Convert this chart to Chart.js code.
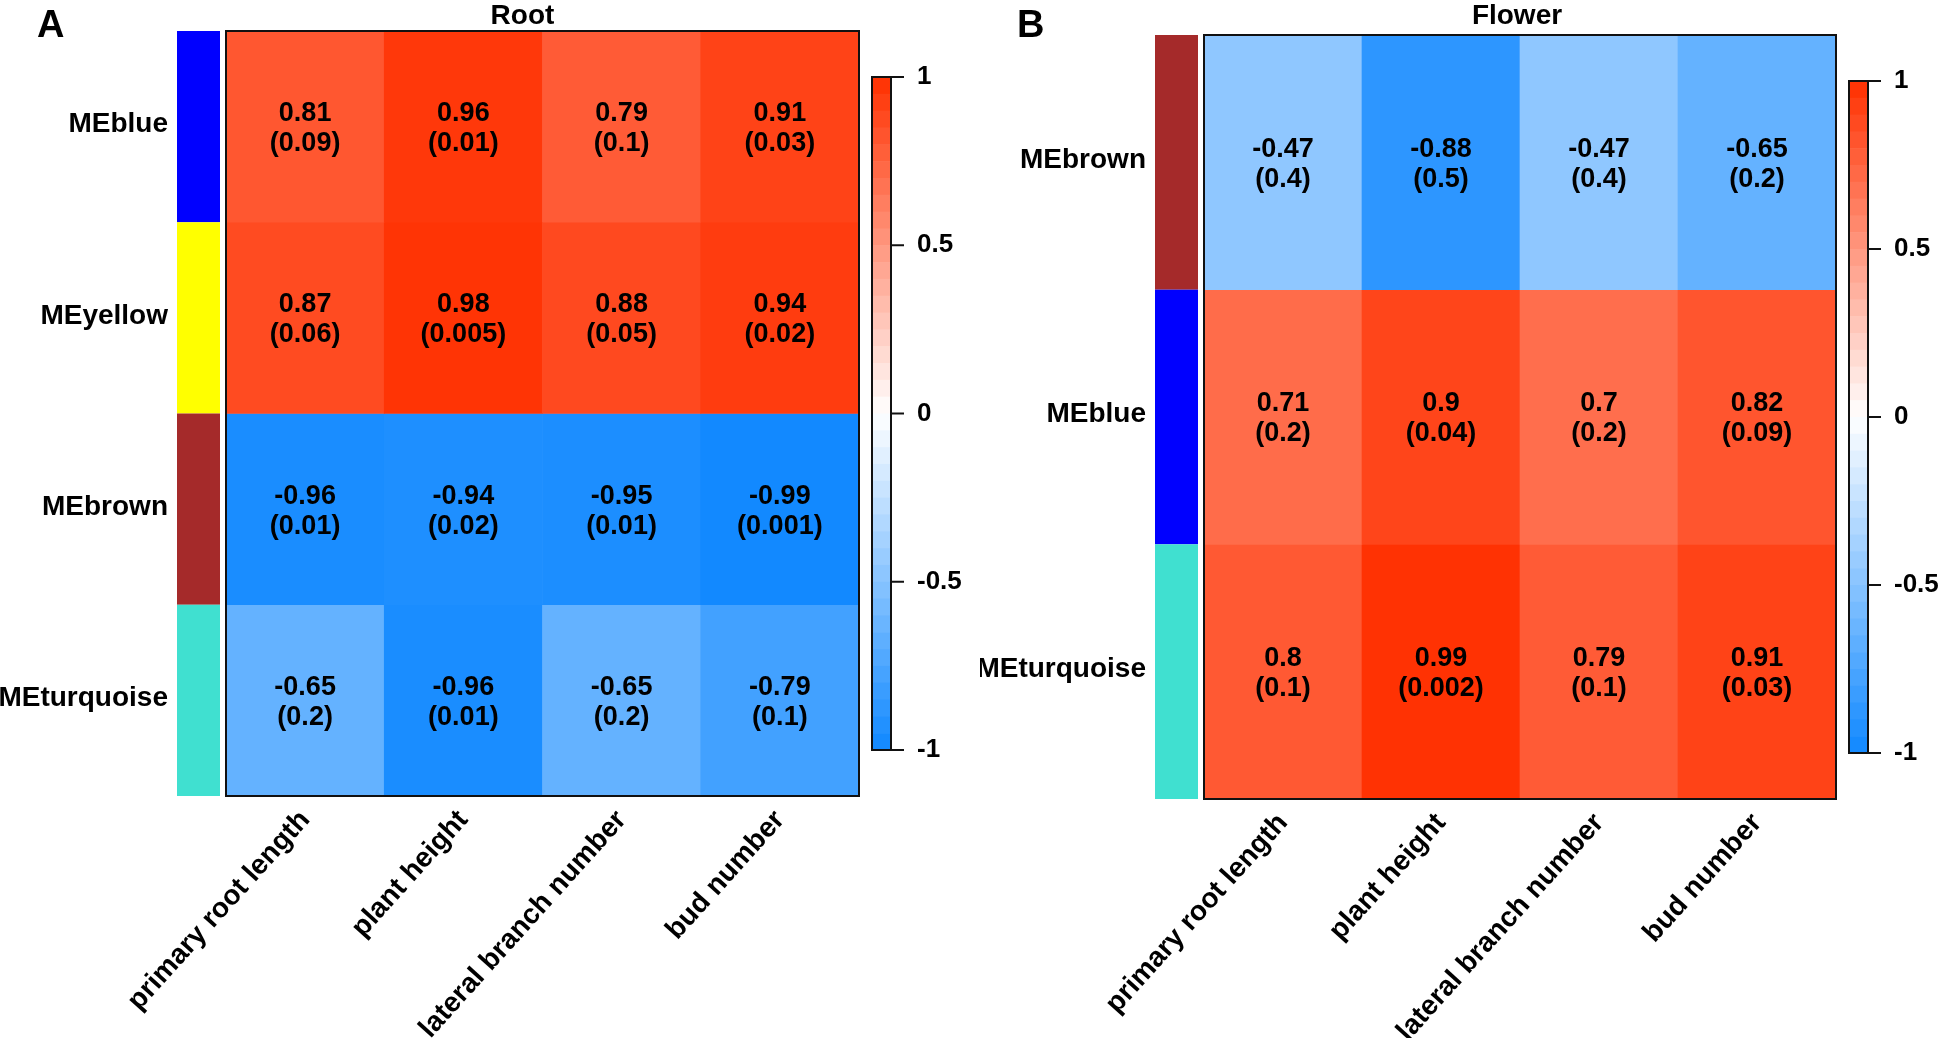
<!DOCTYPE html>
<html>
<head>
<meta charset="utf-8">
<script src="https://cdn.jsdelivr.net/npm/chart.js@4.4.1/dist/chart.umd.min.js"></script>
<style>
  body { margin: 0; background: #fff; }
  #wrap { position: relative; width: 1944px; height: 1038px; overflow: hidden; }
  canvas { position: absolute; top: 0; }
</style>
</head>
<body>
<div id="wrap">
  <canvas id="rootChart" width="980" height="1038" style="left:0"></canvas>
  <canvas id="flowerChart" width="964" height="1038" style="left:980px"></canvas>
</div>
<script>
const FONT = "'Liberation Sans', Arial, sans-serif";

// traits (columns) shared by both panels
const traits = ['primary root length', 'plant height', 'lateral branch number', 'bud number'];

// panel A: Root
const rootModules = ['MEblue', 'MEyellow', 'MEbrown', 'MEturquoise'];
const rootModuleColors = ['#0000FF', '#FFFF00', '#A52A2A', '#40E0D0'];
const rootCorr = [
  [0.81, 0.96, 0.79, 0.91],
  [0.87, 0.98, 0.88, 0.94],
  [-0.96, -0.94, -0.95, -0.99],
  [-0.65, -0.96, -0.65, -0.79]
];
const rootP = [
  ['0.09', '0.01', '0.1', '0.03'],
  ['0.06', '0.005', '0.05', '0.02'],
  ['0.01', '0.02', '0.01', '0.001'],
  ['0.2', '0.01', '0.2', '0.1']
];

// panel B: Flower
const flowerModules = ['MEbrown', 'MEblue', 'MEturquoise'];
const flowerModuleColors = ['#A52A2A', '#0000FF', '#40E0D0'];
const flowerCorr = [
  [-0.47, -0.88, -0.47, -0.65],
  [0.71, 0.9, 0.7, 0.82],
  [0.8, 0.99, 0.79, 0.91]
];
const flowerP = [
  ['0.4', '0.5', '0.4', '0.2'],
  ['0.2', '0.04', '0.2', '0.09'],
  ['0.1', '0.002', '0.1', '0.03']
];

// colour key ticks
const colorbarTicks = [1, 0.5, 0, -0.5, -1];

// blue - white - red scale
function corrColor(v) {
  const t = Math.min(1, Math.abs(v));
  const end = v >= 0 ? [255, 48, 0] : [16, 136, 255];
  const c = end.map(e => Math.round(255 + (e - 255) * t));
  return `rgb(${c[0]},${c[1]},${c[2]})`;
}

// values in cells, side colour strip, border, colour key, title
const heatmapExtras = {
  id: 'heatmapExtras',
  afterDatasetsDraw(chart, args, opts) {
    const { ctx, chartArea: a } = chart;
    const y = chart.scales.y;
    ctx.save();

    ctx.font = 'bold 27px ' + FONT;
    ctx.fillStyle = '#000';
    ctx.textAlign = 'center';
    ctx.textBaseline = 'middle';
    chart.data.datasets.forEach((ds, r) => {
      chart.getDatasetMeta(r).data.forEach((bar, c) => {
        const cy = (bar.y + bar.base) / 2 + 2;
        ctx.fillText(String(opts.corr[r][c]), bar.x, cy - 15);
        ctx.fillText('(' + opts.p[r][c] + ')', bar.x, cy + 15);
      });
    });

    ctx.lineWidth = 2;
    ctx.strokeStyle = '#111';
    ctx.strokeRect(a.left, a.top, a.right - a.left, a.bottom - a.top);

    // module colour strip
    opts.moduleColors.forEach((col, r) => {
      const y0 = y.getPixelForValue(r), y1 = y.getPixelForValue(r + 1);
      ctx.fillStyle = col;
      ctx.fillRect(a.left - 49, Math.min(y0, y1), 43, Math.abs(y1 - y0));
    });

    // colour key
    const cbL = a.right + 13, cbW = 19, cbT = a.top + 46, cbB = a.bottom - 46;
    const steps = 40, h = (cbB - cbT) / steps;
    for (let i = 0; i < steps; i++) {
      ctx.fillStyle = corrColor(1 - 2 * (i + 0.5) / steps);
      ctx.fillRect(cbL, cbT + i * h, cbW, h + 0.6);
    }
    ctx.strokeRect(cbL, cbT, cbW, cbB - cbT);
    ctx.font = 'bold 26px ' + FONT;
    ctx.textAlign = 'left';
    ctx.fillStyle = '#000';
    colorbarTicks.forEach(v => {
      const yy = cbT + (1 - v) / 2 * (cbB - cbT);
      ctx.beginPath();
      ctx.moveTo(cbL + cbW, yy);
      ctx.lineTo(cbL + cbW + 13, yy);
      ctx.stroke();
      ctx.fillText(String(v), cbL + cbW + 26, yy);
    });

    // title and panel letter
    ctx.font = 'bold 28px ' + FONT;
    ctx.textAlign = 'center';
    ctx.textBaseline = 'alphabetic';
    ctx.fillText(opts.title, (a.left + a.right) / 2 + opts.titleShift, 24);
    ctx.font = 'bold 38px ' + FONT;
    ctx.textAlign = 'left';
    ctx.fillText(opts.letter, 37, 37);
    ctx.restore();
  }
};

function makeHeatmap(id, modules, moduleColors, corr, p, geo) {
  const datasets = modules.map((m, r) => ({
    label: m,
    data: traits.map(() => 1),
    backgroundColor: corr[r].map(corrColor),
    borderWidth: 0,
    barPercentage: 1,
    categoryPercentage: 1
  }));

  return new Chart(document.getElementById(id).getContext('2d'), {
    type: 'bar',
    data: { labels: traits, datasets },
    plugins: [heatmapExtras],
    options: {
      responsive: false,
      animation: false,
      layout: { padding: { left: 0, top: geo.top, right: geo.right, bottom: 0 } },
      scales: {
        x: {
          stacked: true,
          grid: { display: false, drawTicks: false },
          border: { display: false },
          ticks: {
            autoSkip: false, minRotation: 48, maxRotation: 48, padding: 8,
            color: '#000', font: { family: FONT, size: 28, weight: 'bold' }
          },
          afterFit: s => { s.height = geo.xHeight; }
        },
        y: {
          stacked: true, reverse: true, min: 0, max: modules.length,
          grid: { display: false, drawTicks: false },
          border: { display: false },
          afterBuildTicks: s => { s.ticks = modules.map((m, r) => ({ value: r + 0.49 })); },
          ticks: {
            padding: 58, color: '#000',
            font: { family: FONT, size: 28, weight: 'bold' },
            callback: (v, i) => modules[i]
          },
          afterFit: s => {
            s.width = geo.yWidth;
            s.paddingTop = 0;
            s.paddingBottom = 0;
          }
        }
      },
      plugins: {
        legend: { display: false },
        tooltip: { enabled: false },
        heatmapExtras: { corr, p, moduleColors, title: geo.title, titleShift: geo.titleShift, letter: geo.letter }
      }
    }
  });
}

makeHeatmap('rootChart', rootModules, rootModuleColors, rootCorr, rootP,
  { top: 31, right: 121, xHeight: 242, yWidth: 226, title: 'Root', titleShift: -20, letter: 'A' });
makeHeatmap('flowerChart', flowerModules, flowerModuleColors, flowerCorr, flowerP,
  { top: 35, right: 108, xHeight: 239, yWidth: 224, title: 'Flower', titleShift: -3, letter: 'B' });
</script>
</body>
</html>
